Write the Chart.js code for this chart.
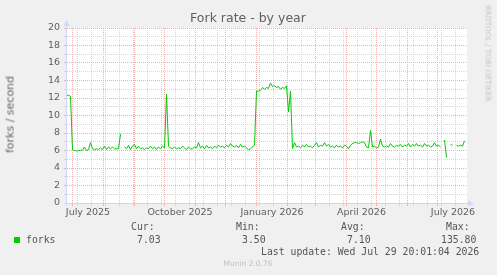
<!DOCTYPE html>
<html>
<head>
<meta charset="utf-8">
<script src="https://cdn.jsdelivr.net/npm/chart.js@4/dist/chart.umd.min.js"></script>
<style>
body { margin: 0; background: #f0f0f0; }
#wrap { position: relative; width: 497px; height: 275px; background: #f0f0f0; font-family: "DejaVu Sans", sans-serif; color: #606060; overflow: hidden; }
#forkChart { position: absolute; left: 0; top: 0; }
.t { position: absolute; white-space: pre; }
.mono { font-family: "DejaVu Sans Mono", monospace; font-size: 9.8px; line-height: 12px; color: #555; }
</style>
</head>
<body>
<div id="wrap">
  <canvas id="forkChart" width="497" height="275"></canvas>
  <div class="t" style="left:148px;top:11px;width:200px;text-align:center;font-size:12.5px;line-height:14px;">Fork rate - by year</div>
  <div class="t" style="left:-40px;top:108px;width:100px;text-align:center;font-size:11px;line-height:13px;color:#666;transform:rotate(-90deg);">forks / second</div>
  <div class="t" style="left:438px;top:49px;width:100px;text-align:center;font-size:7.5px;line-height:9px;color:#c4c4c4;transform:rotate(90deg);">RRDTOOL / TOBI OETIKER</div>

  <div class="t mono" style="left:131px;top:221px;">Cur:</div>
  <div class="t mono" style="left:236px;top:221px;">Min:</div>
  <div class="t mono" style="left:341px;top:221px;">Avg:</div>
  <div class="t mono" style="left:446px;top:221px;">Max:</div>
  <div style="position:absolute;left:14px;top:237px;width:6px;height:6px;background:#00cc00;"></div>
  <div class="t mono" style="left:26px;top:234px;">forks</div>
  <div class="t mono" style="left:137px;top:234px;">7.03</div>
  <div class="t mono" style="left:242px;top:234px;">3.50</div>
  <div class="t mono" style="left:347px;top:234px;">7.10</div>
  <div class="t mono" style="left:441px;top:234px;">135.80</div>
  <div class="t mono" style="left:261px;top:246px;">Last update: Wed Jul 29 20:01:04 2026</div>
  <div class="t" style="left:198px;top:259px;width:100px;text-align:center;font-size:7.5px;line-height:10px;color:#c0c0c0;">Munin 2.0.76</div>
</div>
<script>
// days counted from 1 July 2025, one value every 2 days
const firstDay = -6;
const stepDays = 2;
const forks = [
  12.3, 12.3, 12.2,
  6.1, 6.0, 5.95, 6.0, 6.0, 6.05, 6.4, 6.0, 6.1, 6.9, 6.2, 6.1, 6.2, 6.1, 6.3, 6.1, 6.5, 6.1, 6.4, 6.2, 6.4, 6.2, 6.2, 6.2,
  7.9, null,
  6.4, 6.2, 6.6, 6.1, 6.5, 6.7, 6.2, 6.5, 6.2, 6.3, 6.1, 6.3, 6.2, 6.5, 6.2, 6.4, 6.1, 6.4, 6.2, 6.5, 6.3,
  12.45,
  6.5, 6.3, 6.2, 6.4, 6.2, 6.3, 6.2, 6.5, 6.3, 6.1, 6.4, 6.2,
  6.2, 6.4, 6.3, 6.9, 6.3, 6.5, 6.2, 6.6, 6.3, 6.4, 6.2, 6.5, 6.3, 6.6, 6.4, 6.5,
  6.3, 6.6, 6.4, 6.8, 6.5, 6.4, 6.6, 6.3, 6.7, 6.4, 6.5, 6.3, 6.1, 6.2, 6.4, 6.6,
  12.8, 12.8, 12.85, 13.2, 13.0, 13.2, 13.1, 13.7, 13.3, 13.4, 13.2, 13.3, 13.0, 13.2, 13.1, 13.4,
  10.4, 12.8,
  6.2, 6.9, 6.4, 6.5, 6.3, 6.6, 6.4, 6.7, 6.4, 6.5, 6.3, 6.6, 6.9, 6.4, 6.6, 6.5, 6.9, 6.5, 6.7, 6.4,
  6.5, 6.3, 6.6, 6.4, 6.5, 6.3, 6.6, 6.5, 6.2, 6.6, 6.8, 6.9, 6.9, 6.8, 6.9, 7.0, 6.9, 6.4, 6.3,
  8.3, 6.4, 6.5, 6.3, 6.4, 7.3, 6.5, 6.4, 6.5, 6.4, 6.8, 6.5, 6.4, 6.6, 6.5, 6.7, 6.4, 6.6, 6.5, 6.8,
  6.4, 6.7, 6.5, 6.8, 6.5, 6.6, 6.4, 6.8, 6.5, 6.6, 6.4, 6.5, 6.9, 6.5, 6.6, 6.4,
  null, 7.2, 5.2, null, 6.7, 6.6, null, 6.6, 6.5, 6.6, 6.5, 7.1
];

const monthStarts = [0, 31, 62, 92, 123, 153, 184, 215, 243, 274, 304, 335, 365];
const labelDays = [15.5, 107.5, 199.5, 289, 380.5];
const labelNames = ['July 2025', 'October 2025', 'January 2026', 'April 2026', 'July 2026'];
const yTickValues = [0, 1, 2, 3, 4, 5, 6, 7, 8, 9, 10, 11, 12, 13, 14, 15, 16, 17, 18, 19, 20];

const xMin = -5.5, xMax = 394.5;
const majorGrid = '#ebb2b2';
const minorGrid = '#d6d6d6';
const axisColor = '#cfd6f8';
const textColor = '#606060';

const minorDays = [];
for (let d = 5; d < xMax; d += 14) {
  if (!monthStarts.includes(d)) minorDays.push(d);
}
const xTickValues = [...monthStarts, ...minorDays, ...labelDays].sort((a, b) => a - b);

const points = forks.map((v, i) => ({ x: firstDay + i * stepDays, y: v }));

function xGrid(ctx) {
  if (!ctx.tick) return minorGrid;
  const v = ctx.tick.value;
  if (monthStarts.includes(v)) return majorGrid;
  if (labelDays.includes(v)) return 'rgba(0,0,0,0)';
  return minorGrid;
}

const frame = {
  id: 'frame',
  beforeDraw(chart) {
    const { ctx, chartArea: a } = chart;
    ctx.save();
    ctx.fillStyle = '#ffffff';
    ctx.fillRect(a.left, a.top, a.right - a.left, a.bottom - a.top);
    ctx.restore();
  },
  afterDraw(chart) {
    const { ctx, chartArea: a } = chart;
    ctx.save();
    ctx.strokeStyle = axisColor;
    ctx.fillStyle = axisColor;
    ctx.lineWidth = 1;
    ctx.beginPath();
    ctx.moveTo(a.left - 0.5, a.bottom + 3);
    ctx.lineTo(a.left - 0.5, a.top - 4);
    ctx.moveTo(a.left - 3, a.bottom + 0.5);
    ctx.lineTo(a.right + 3, a.bottom + 0.5);
    ctx.stroke();
    ctx.beginPath();
    ctx.moveTo(a.left - 0.5, a.top - 8);
    ctx.lineTo(a.left - 3.5, a.top - 2);
    ctx.lineTo(a.left + 2.5, a.top - 2);
    ctx.closePath();
    ctx.fill();
    ctx.beginPath();
    ctx.moveTo(a.right + 7, a.bottom + 0.5);
    ctx.lineTo(a.right + 1, a.bottom - 2.5);
    ctx.lineTo(a.right + 1, a.bottom + 3.5);
    ctx.closePath();
    ctx.fill();
    ctx.restore();
  }
};

new Chart(document.getElementById('forkChart'), {
  type: 'line',
  data: {
    datasets: [{
      label: 'forks',
      data: points,
      borderColor: '#00cc00',
      borderWidth: 1,
      pointRadius: 0,
      tension: 0,
      spanGaps: false,
      fill: false,
    }],
  },
  options: {
    responsive: false,
    animation: false,
    layout: { padding: { left: 0, right: 30, top: 28, bottom: 50 } },
    plugins: { legend: { display: false }, tooltip: { enabled: false } },
    scales: {
      x: {
        type: 'linear',
        min: xMin,
        max: xMax,
        afterBuildTicks: scale => { scale.ticks = xTickValues.map(v => ({ value: v })); },
        afterFit: scale => { scale.height = 22; },
        ticks: {
          autoSkip: false,
          maxRotation: 0,
          padding: 1,
          color: textColor,
          font: { family: 'DejaVu Sans', size: 9.5 },
          callback: v => {
            const i = labelDays.indexOf(v);
            return i >= 0 ? labelNames[i] : '';
          },
        },
        grid: { color: xGrid, tickLength: 3, lineWidth: 1 },
        border: { display: false, dash: [1, 1] },
      },
      y: {
        min: 0,
        max: 20,
        afterBuildTicks: scale => { scale.ticks = yTickValues.map(v => ({ value: v })); },
        afterFit: scale => { scale.width = 67; },
        ticks: {
          autoSkip: false,
          padding: 4,
          color: textColor,
          font: { family: 'DejaVu Sans', size: 9.5 },
          callback: v => (v % 2 === 0 ? String(v) : ''),
        },
        grid: {
          color: ctx => (ctx.tick && ctx.tick.value % 2 === 0 ? majorGrid : minorGrid),
          tickLength: 3,
          lineWidth: 1,
        },
        border: { display: false, dash: [1, 1] },
      },
    },
  },
  plugins: [frame],
});
</script>
</body>
</html>
